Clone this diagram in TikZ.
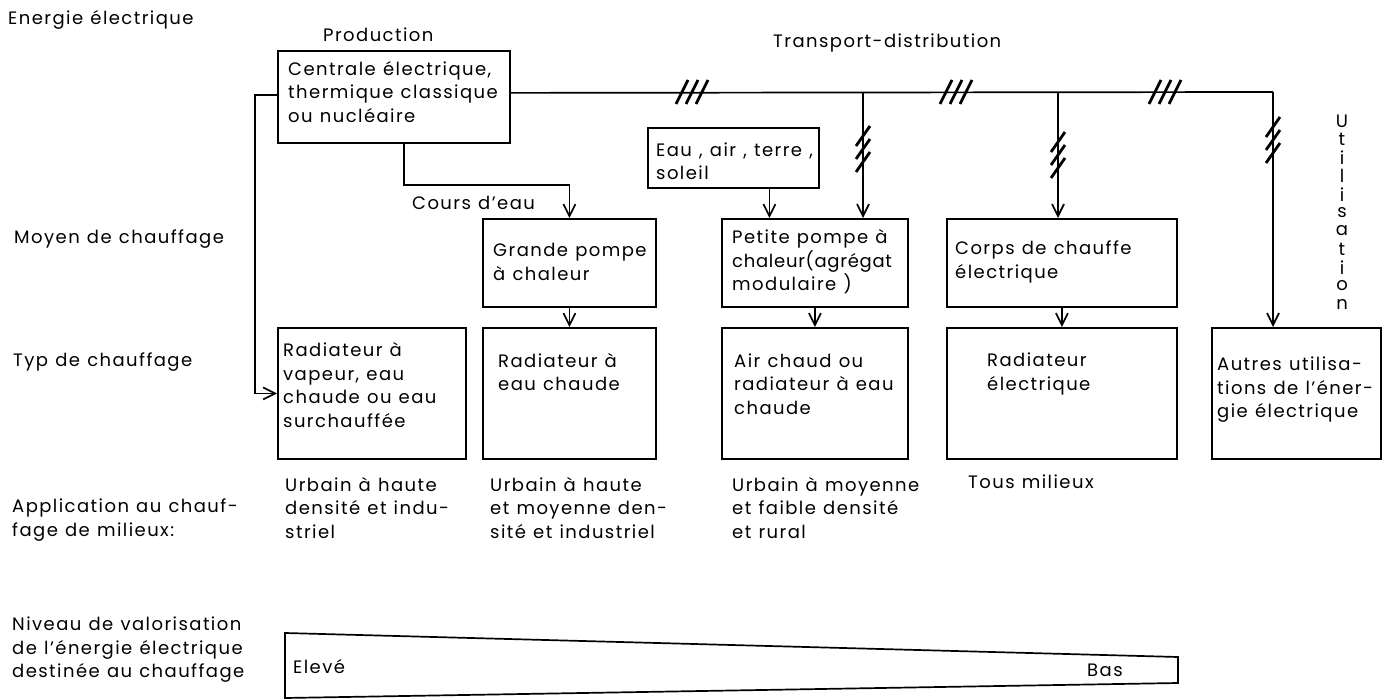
\documentclass[tikz,border=0pt]{standalone}
\usepackage{fontspec}
\setmainfont{Poppins}[LetterSpace=8, WordSpace=1.15]
\usetikzlibrary{arrows.meta}

\newcommand\hcut[1]{\foreach \d in {-10,0,10} \draw[cut] ([xshift=\d pt]#1) ++(-6,12) -- ++(12,-24);}
\newcommand\vcut[1]{\foreach \d in {-13,0,13} \draw[cut] ([yshift=\d pt]#1) ++(-7,10) -- ++(14,-20);}

\begin{document}
\begin{tikzpicture}[x=1pt, y=-1pt,
  every node/.style={font=\fontsize{18}{23.5}\selectfont, inner sep=0pt, anchor=west, align=left},
  box/.style={draw, line width=1.8pt, anchor=north west},
  arr/.style={line width=1.7pt, -{Straight Barb[length=12pt,width=12pt]}},
  wire/.style={line width=1.7pt},
  cut/.style={line width=2.8pt}]
\useasboundingbox (0,0) rectangle (1384,700);

% row titles
\node (tener) at (8,20) {Energie électrique};
\node (tmoy) at (14,239) {Moyen de chauffage};
\node (ttyp) at (13,362) {Typ de chauffage};
\node (tapp) at (12,520) {Application au chauf-\\fage de milieux:};
\node (tniv) at (12,650) {Niveau de valorisation\\de l'énergie électrique\\destinée au chauffage};

% production and transport
\node (tprod) at (323,35) {Production};
\node (ttrans) at (773,43) {Transport-distribution};
\node[box, minimum width=232pt, minimum height=92pt] (cent) at (277,50) {};
\node (centt) at (288,92) {Centrale électrique,\\thermique classique\\ou nucléaire};
\node[box, minimum width=171pt, minimum height=60pt] (eau) at (647,127) {};
\node (eaut) at (656,161) {Eau , air , terre ,\\soleil};
\node (tcours) at (412,203) {Cours d'eau};

% moyen de chauffage
\node[box, minimum width=173pt, minimum height=88pt] (gpompe) at (482,218) {};
\node (gpompet) at (493,262) {Grande pompe\\à chaleur};
\node[box, minimum width=186pt, minimum height=88pt] (ppompe) at (721,218) {};
\node (ppompet) at (732,262) {Petite pompe à\\{\addfontfeature{LetterSpace=4}chaleur(agrégat}\\modulaire )};
\node[box, minimum width=230pt, minimum height=88pt] (corps) at (946,218) {};
\node (corpst) at (955,262) {Corps de chauffe\\électrique};

% type de chauffage
\node[box, minimum width=188pt, minimum height=131pt] (radvap) at (277,327) {};
\node (radvapt) at (283,385) {Radiateur à\\vapeur, eau\\chaude ou eau\\surchauffée};
\node[box, minimum width=173pt, minimum height=131pt] (radeau) at (482,327) {};
\node (radeaut) at (498,372) {Radiateur à\\eau chaude};
\node[box, minimum width=186pt, minimum height=131pt] (air) at (721,327) {};
\node (airt) at (734,384) {Air chaud ou\\radiateur à eau\\chaude};
\node[box, minimum width=230pt, minimum height=131pt] (radel) at (946,327) {};
\node (radelt) at (987,374) {Radiateur\\électrique};
\node[box, minimum width=169pt, minimum height=131pt] (autres) at (1211,327) {};
\node (autrest) at (1217,390) {Autres utilisa-\\tions de l'éner-\\gie électrique};

% application
\node (app1) at (285,508) {Urbain à haute\\densité et indu-\\striel};
\node (app2) at (490,508) {Urbain à haute\\et moyenne den-\\sité et industriel};
\node (app3) at (732,508) {Urbain à moyenne\\et faible densité\\et rural};
\node (app4) at (968,482) {Tous milieux};

% utilisation
\foreach \l [count=\i] in {U,t,i,l,i,s,a,t,i,o,n}
  \node[anchor=center] (u\i) at (1342, {102.7+18.3*\i}) {\l};

% transport line
\coordinate (j1) at (863,92);
\coordinate (j2) at (1058,92);
\coordinate (j3) at (1273,92);
\draw[wire] ([yshift=4pt]cent.east) -- (j3);
\draw[arr] (j1) -- (j1 |- ppompe.north);
\draw[arr] (j2) -- (j2 |- corps.north);
\draw[arr] (j3) -- (j3 |- autres.north);
\coordinate (t1) at (692,92);
\coordinate (t2) at (956,92);
\coordinate (t3) at (1165,92);
\hcut{t1} \hcut{t2} \hcut{t3}
\coordinate (v1) at (863,149);
\coordinate (v2) at (1058,155);
\coordinate (v3) at (1273,140);
\vcut{v1} \vcut{v2} \vcut{v3}

% other connectors
\draw[arr] ([yshift=2pt]cent.west) -- ++(-22,0) |- (radvap.west);
\draw[arr] ([xshift=10pt]cent.south) -- ++(0,41) -| (gpompe.north);
\draw[arr] ([xshift=36pt]eau.south) -- ([xshift=36pt]eau.south |- ppompe.north);
\draw[arr] (gpompe.south) -- (radeau.north);
\draw[arr] (ppompe.south) -- (air.north);
\draw[arr] (corps.south) -- (radel.north);

% niveau de valorisation
\draw[wire] (285,633) -- (1178,657) -- (1178,683) -- (285,698) -- cycle;
\node (eleve) at (293,667) {Elevé};
\node (bas) at (1087,670) {Bas};
\end{tikzpicture}
\end{document}
